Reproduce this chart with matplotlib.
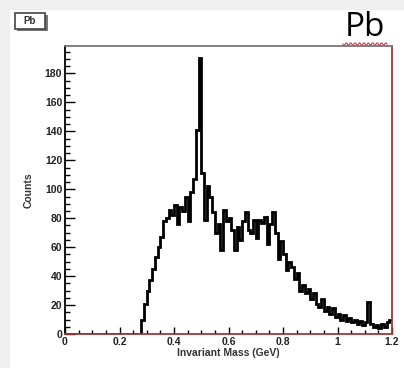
import numpy as np
import matplotlib
matplotlib.use("Agg")
import matplotlib.pyplot as plt
from matplotlib.ticker import MultipleLocator
from matplotlib.patches import Rectangle

# histogram counts per 0.01 GeV bin (0.28 .. 1.20 GeV)
mass_start = 0.28
counts_measured = [
    10, 21, 30, 37, 45, 53, 60, 67, 78, 80,      # 0.28 - 0.37
    86, 82, 89, 76, 88, 85, 95, 78, 98, 107,     # 0.38 - 0.47
    141, 191, 111, 79, 102, 95, 84, 70, 76, 58,  # 0.48 - 0.57
    86, 78, 80, 72, 58, 74, 65, 78, 84, 72,      # 0.58 - 0.67
    70, 79, 66, 79, 77, 81, 62, 76, 84, 70,      # 0.68 - 0.77
    52, 64, 55, 44, 50, 46, 38, 42, 30, 34,      # 0.78 - 0.87
    28, 31, 24, 28, 21, 19, 24, 16, 19, 14,      # 0.88 - 0.97
    18, 12, 14, 10, 13, 9, 11, 8, 10, 7,         # 0.98 - 1.07
    9, 6, 8, 22, 7, 5, 6, 4, 7, 5,               # 1.08 - 1.17
    8, 10,                                       # 1.18 - 1.19
]
x_ticks = [0, 0.2, 0.4, 0.6, 0.8, 1.0, 1.2]
x_tick_labels = ["0", "0.2", "0.4", "0.6", "0.8", "1", "1.2"]
y_ticks = [0, 20, 40, 60, 80, 100, 120, 140, 160, 180]

n_empty = int(round(mass_start / 0.01))
counts = np.array([0] * n_empty + counts_measured, dtype=float)
edges = np.linspace(0.0, 1.2, len(counts) + 1)

plt.rcParams['font.family'] = ['Liberation Sans', 'DejaVu Sans']

fig = plt.figure(figsize=(4.04, 3.68), dpi=100)
fig.patch.set_facecolor('#efefef')
# white canvas of the screenshot (behind everything)
fig.patches.append(Rectangle((10 / 404, 0), 1, 358 / 368, transform=fig.transFigure,
                             facecolor='white', edgecolor='none', zorder=-5))

ax = fig.add_axes([65 / 404, 34 / 368, 327 / 404, 288 / 368])
ax.set_zorder(2)
ax.stairs(counts, edges, color='black', linewidth=2.0, baseline=None)

ax.set_xlim(0, 1.2)
ax.set_ylim(0, 199)
ax.set_xticks(x_ticks)
ax.set_xticklabels(x_tick_labels)
ax.set_yticks(y_ticks)
ax.xaxis.set_minor_locator(MultipleLocator(0.05))
ax.yaxis.set_minor_locator(MultipleLocator(5))
ax.tick_params(which='major', direction='in', length=7, width=1.0,
               labelsize=7.5, pad=2, colors='black')
ax.tick_params(which='minor', direction='in', length=3.5, width=1.0)
ax.tick_params(axis='x', which='major', length=5)
ax.tick_params(axis='x', which='minor', length=3)
for lbl in ax.get_xticklabels() + ax.get_yticklabels():
    lbl.set_fontweight('bold')
    lbl.set_color('#222222')

ax.spines['left'].set_color('black')
ax.spines['top'].set_color('#777777')
ax.spines['right'].set_color('#a03838')
ax.spines['bottom'].set_color('#a03838')
for s in ax.spines.values():
    s.set_linewidth(1.3)

ax.set_xlabel('Invariant Mass (GeV)', fontsize=7.5, fontweight='bold',
              color='#333333', labelpad=1)
ax.set_ylabel('Counts', fontsize=7.5, fontweight='bold', color='#333333', labelpad=8)

# small "Pb" title box (top-left) with shadow
fig.patches.append(Rectangle((17 / 404, 1 - 31 / 368), 31 / 404, 16 / 368,
                             transform=fig.transFigure, facecolor='#777777',
                             edgecolor='none', zorder=2))
fig.patches.append(Rectangle((15 / 404, 1 - 29 / 368), 30 / 404, 16 / 368,
                             transform=fig.transFigure, facecolor='white',
                             edgecolor='#444444', linewidth=1.2, zorder=3))
fig.text(30 / 404, 1 - 21 / 368, 'Pb', ha='center', va='center', fontsize=7,
         fontweight='bold', color='#333333', zorder=4)

# big "Pb" label (top-right) with wavy spell-check underline
fig.text(365 / 404, 1 - 27 / 368, 'Pb', ha='center', va='center', fontsize=24,
         family=['Open Sans', 'DejaVu Sans'], color='black', zorder=10)
wx = np.linspace(343, 387, 60)
wy = 44 + 1.2 * np.sin((wx - 343) * 2 * np.pi / 4.4)
fig.add_artist(plt.Line2D(wx / 404, 1 - wy / 368, transform=fig.transFigure,
                          color='#c04050', linewidth=0.8, zorder=10))

fig.savefig('out.png', dpi=100, facecolor=fig.get_facecolor())
